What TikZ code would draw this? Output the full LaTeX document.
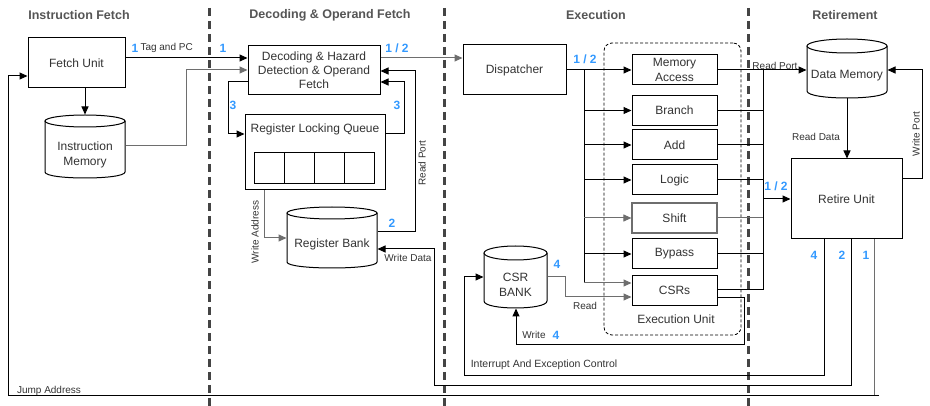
\documentclass[tikz,border=0pt]{standalone}
\usepackage{fontspec}
\setmainfont{Liberation Sans}
\usetikzlibrary{arrows.meta}
\definecolor{blu}{HTML}{3399FF}
\definecolor{ttl}{HTML}{555555}
\definecolor{txt}{HTML}{333333}
\definecolor{gln}{HTML}{6E6E6E}
\definecolor{sepc}{HTML}{444444}
\newcommand\drawcyl[5]{%
  \draw[fill=white] (#1,{#2+#5}) -- (#1,{#4-#5}) .. controls (#1,{#4+#5/3}) and (#3,{#4+#5/3}) .. (#3,{#4-#5}) -- (#3,{#2+#5});
  \draw[fill=white] ({(#1+#3)/2},{#2+#5}) ellipse [x radius={(#3-#1)/2}, y radius=#5];
}
\begin{document}
\begin{tikzpicture}[x=1pt,y=-1pt,line width=1pt,
  box/.style={draw=black, fill=white, inner sep=0pt, align=center, text=txt, font=\fontsize{12}{14}\selectfont},
  ubox/.style={box, minimum width=85, minimum height=30, font=\fontsize{12}{15}\selectfont},
  cell/.style={draw=black, inner sep=0pt, minimum width=30, minimum height=31},
  hold/.style={inner sep=0pt},
  ctext/.style={inner sep=0pt, align=center, text=txt, font=\fontsize{12}{15}\selectfont},
  ttlx/.style={inner sep=0pt, text=ttl, font=\bfseries\fontsize{12.5}{14}\selectfont},
  num/.style={inner sep=0pt, text=blu, font=\bfseries\fontsize{12}{14}\selectfont},
  lbl/.style={inner sep=0pt, text=txt, font=\fontsize{10}{12}\selectfont},
  sepline/.style={draw=sepc, line width=3pt, dash pattern=on 8pt off 5pt},
  arr/.style={-{Triangle[length=8pt,width=7pt]}},
  ln/.style={draw=black},
  gl/.style={draw=gln}
]
\useasboundingbox (0,0) rectangle (930,406);

% separators
\draw[sepline] (209,8) -- (209,406);
\draw[sepline] (444,8) -- (444,406);
\draw[sepline] (748,8) -- (748,406);

% titles
\node[ttlx] (t1) at (79,15) {Instruction Fetch};
\node[ttlx] (t2) at (330,15) {Decoding \& Operand Fetch};
\node[ttlx] (t3) at (596,15) {Execution};
\node[ttlx] (t4) at (845,15) {Retirement};

% execution unit group
\node[draw=black, line width=0.8pt, dash pattern=on 3pt off 2pt, rounded corners=8pt, minimum width=137, minimum height=292, inner sep=0pt] (execu) at (672.5,189) {};
\node[ctext] (execlbl) at (676,319) {Execution Unit};

% cylinders
\drawcyl{45}{115}{125}{178}{6}
\drawcyl{287}{207}{377}{268}{6}
\drawcyl{484}{246}{547}{308}{7}
\drawcyl{807}{39}{887}{98}{7}
\node[hold, minimum width=80, minimum height=63] (imem) at (85,146.5) {};
\node[ctext] (imemtxt) at (85,154.5) {Instruction\\Memory};
\node[hold, minimum width=90, minimum height=61] (regbank) at (332,237.5) {};
\node[ctext] (regbanktxt) at (332,244) {Register Bank};
\node[hold, minimum width=63, minimum height=62] (csrbank) at (515.5,277) {};
\node[ctext] (csrtxt) at (515.5,284.5) {CSR\\BANK};
\node[hold, minimum width=80, minimum height=59] (dmem) at (847,68.5) {};
\node[ctext] (dmemtxt) at (847,76) {Data Memory};

% boxes
\node[box, minimum width=97, minimum height=50] (fetch) at (76.5,63) {Fetch Unit};
\node[box, minimum width=132, minimum height=49] (decode) at (314,70.5) {Decoding \& Hazard\\Detection \& Operand\\Fetch};
\node[box, minimum width=140, minimum height=75] (rlq) at (315,152.5) {};
\node[ctext] (rlqtxt) at (315,129) {Register Locking Queue};
\node[cell] (c1) at (269,168.5) {};
\node[cell] (c2) at (299,168.5) {};
\node[cell] (c3) at (329,168.5) {};
\node[cell] (c4) at (359,168.5) {};
\node[box, minimum width=103, minimum height=50] (disp) at (514.5,70) {Dispatcher};
\node[ubox] (mem) at (674.5,70) {Memory\\Access};
\node[ubox] (branch) at (674.5,110.5) {Branch};
\node[ubox] (add) at (674.5,145) {Add};
\node[ubox] (logic) at (674.5,180) {Logic};
\node[ubox, draw=gln, line width=1.2pt] (shift) at (674.5,218) {Shift};
\node[ubox] (bypass) at (674.5,254) {Bypass};
\node[ubox] (csrs) at (674.5,290.5) {CSRs};
\node[box, minimum width=111, minimum height=80] (retire) at (846.5,199) {Retire Unit};

% instruction fetch connectors
\draw[ln,arr] (fetch.east |- 0,58) -- (decode.west |- 0,58);
\draw[gl,arr] (imem.east |- 0,146) -- (186,146) -- (186,70) -- (decode.west |- 0,70);
\draw[ln,arr] (imem.north |- fetch.south) -- (imem.north);

% decode connectors
\draw[gl,arr] (decode.east |- 0,58) -- (disp.west |- 0,58);
\draw[ln,arr] (decode.west |- 0,82) -- (228,82) -- (228,134) -- (rlq.west |- 0,134);
\draw[ln,arr] (rlq.east |- 0,134) -- (404,134) -- (404,82) -- (decode.east |- 0,82);
\draw[ln,arr] (regbank.east |- 0,232) -- (415,232) -- (415,71) -- (decode.east |- 0,71);
\draw[gl,arr] (rlq.south -| 264,0) -- (264,238) -- (regbank.west |- 0,238);

% dispatcher bus
\draw[ln,arr] (disp.east) -- (mem.west);
\draw[ln] (584,70) -- (584,283);
\draw[ln,arr] (584,110.5) -- (branch.west);
\draw[ln,arr] (584,145) -- (add.west);
\draw[ln,arr] (584,180) -- (logic.west);
\draw[gl,arr] (584,218) -- (shift.west);
\draw[ln,arr] (584,254) -- (bypass.west);
\draw[gl,arr] (584,283) -- (csrs.west |- 0,283);
\draw[gl,arr] (csrbank.east |- 0,277) -- (565,277) -- (565,297) -- (csrs.west |- 0,297);
\draw[ln,arr] (csrs.east |- 0,298) -- (744,298) -- (744,345) -- (516,345) -- (csrbank.south -| 516,0);

% collector to retire
\draw[ln,arr] (mem.east) -- (dmem.west |- 0,70);
\draw[ln] (763,70) -- (763,290);
\draw[ln] (branch.east) -- (763,110.5);
\draw[ln] (add.east) -- (763,145);
\draw[ln] (logic.east) -- (763,180);
\draw[gl] (shift.east) -- (763,218);
\draw[ln] (bypass.east) -- (763,254);
\draw[ln] (csrs.east |- 0,290) -- (763,290);
\draw[ln,arr] (763,199) -- (retire.west);

% retirement
\draw[ln,arr] (dmem.south) -- (dmem.south |- retire.north);
\draw[ln,arr] (retire.east |- 0,179) -- (922,179) -- (922,70) -- (dmem.east |- 0,70);
\draw[ln,arr] (retire.south -| 851,0) -- (851,385) -- (434,385) -- (434,249) -- (regbank.east |- 0,249);
\draw[ln,arr] (retire.south -| 824,0) -- (824,375) -- (464,375) -- (464,277) -- (csrbank.west |- 0,277);
\draw[gl] (retire.south -| 874,0) -- (874,395);
\draw[ln,arr] (879,395) -- (8,395) -- (8,76) -- (fetch.west |- 0,76);

% labels
\node[num] (n1a) at (135,48) {1};
\node[lbl, anchor=west] (tagpc) at (140,48) {Tag and PC};
\node[num] (n1b) at (223,48) {1};
\node[num] (n12a) at (397,48) {1 / 2};
\node[num] (n3a) at (233,105) {3};
\node[num] (n3b) at (397,105) {3};
\node[lbl, rotate=90] (rport) at (422,163) {Read Port};
\node[num] (n2a) at (392,223) {2};
\node[lbl, rotate=90] (waddr) at (255,232) {Write Address};
\node[lbl] (wdata) at (408,258) {Write Data};
\node[num] (n12b) at (585,59) {1 / 2};
\node[lbl] (rport2) at (775,66) {Read Port};
\node[lbl] (rdata) at (816,137) {Read Data};
\node[lbl, rotate=90] (wport) at (916,134) {Write Port};
\node[num] (n12c) at (776,186) {1 / 2};
\node[num] (n4a) at (814,255) {4};
\node[num] (n2b) at (842,255) {2};
\node[num] (n1c) at (866,255) {1};
\node[num] (n4b) at (557,264) {4};
\node[lbl] (readl) at (585,306) {Read};
\node[lbl] (writel) at (534,335) {Write};
\node[num] (n4c) at (556,335) {4};
\node[lbl, font=\fontsize{10.5}{12}\selectfont] (intr) at (544,365) {Interrupt And Exception Control};
\node[lbl] (jump) at (49,391) {Jump Address};
\end{tikzpicture}
\end{document}
